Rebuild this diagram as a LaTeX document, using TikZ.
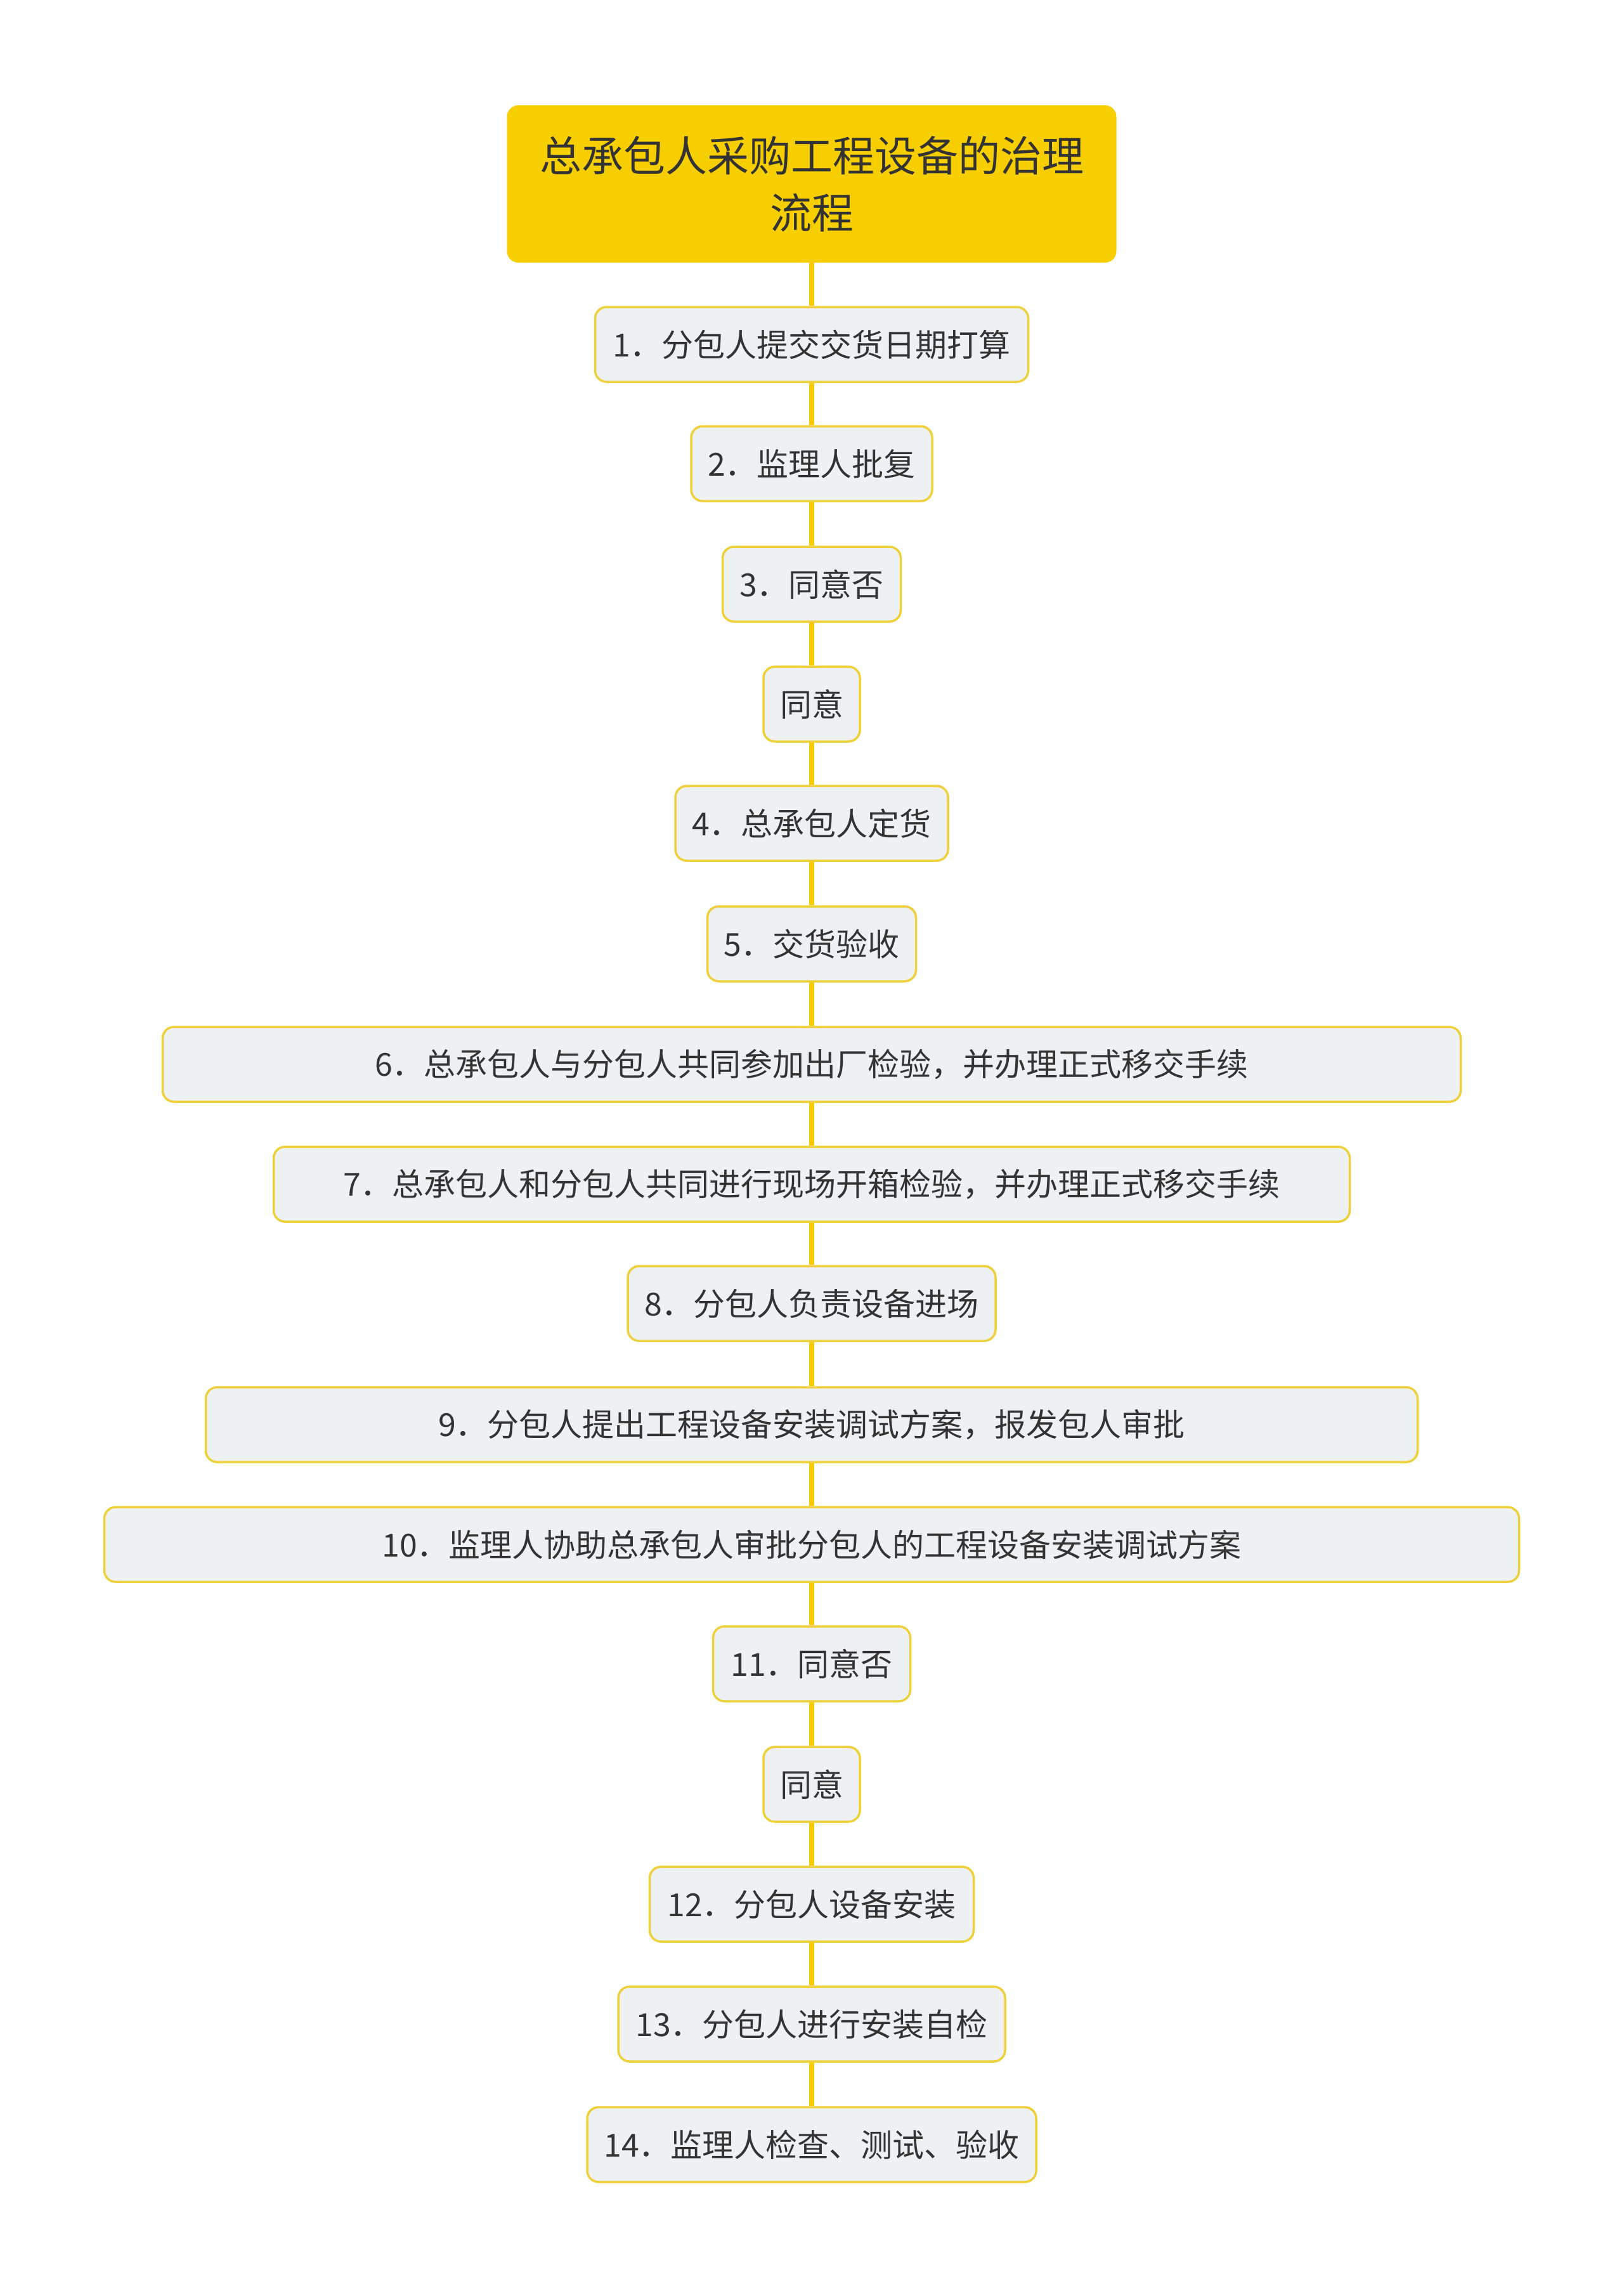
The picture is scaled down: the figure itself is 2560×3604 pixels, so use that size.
\documentclass[tikz,border=0pt]{standalone}
\usepackage{fontspec}
\setmainfont{Noto Sans CJK SC}
\usepackage{xcolor}
\usetikzlibrary{backgrounds}

\definecolor{rootyellow}{HTML}{F7CE00}
\definecolor{lineyellow}{HTML}{F5CB00}
\definecolor{boxborder}{HTML}{EDD03A}
\definecolor{boxfill}{HTML}{EEF1F4}
\definecolor{txtgray}{HTML}{333333}

\begin{document}
\begin{tikzpicture}[x=1pt,y=-1pt,
  rootbox/.style={fill=rootyellow, rounded corners=18pt, minimum width=961pt,
    minimum height=248pt, align=center, text=txtgray, inner sep=0pt,
    font=\fontsize{66}{90}\selectfont},
  stepbox/.style={draw=boxborder, fill=boxfill, line width=3.5pt,
    rounded corners=18pt, minimum height=118pt, text=txtgray, inner sep=0pt,
    font=\fontsize{50}{60}\selectfont},
  link/.style={draw=lineyellow, line width=8pt}]

\useasboundingbox (0,0) rectangle (2560,3604);

% title
\node[rootbox] (n0) at (1280,290) {总承包人采购工程设备的治理\\流程};

% steps, top to bottom
\foreach \w/\y/\t [count=\i] in {
  683/543/{1．分包人提交交货日期打算},
  380/731/{2．监理人批复},
  281/921/{3．同意否},
  152/1110/{同意},
  430/1298/{4．总承包人定货},
  329/1488/{5．交货验收},
  2047/1678/{6．总承包人与分包人共同参加出厂检验，并办理正式移交手续},
  1697/1867/{7．总承包人和分包人共同进行现场开箱检验，并办理正式移交手续},
  580/2055/{8．分包人负责设备进场},
  1911/2246/{9．分包人提出工程设备安装调试方案，报发包人审批},
  2231/2435/{10．监理人协助总承包人审批分包人的工程设备安装调试方案},
  311/2623/{11．同意否},
  152/2813/{同意},
  511/3002/{12．分包人设备安装},
  610/3191/{13．分包人进行安装自检},
  708/3381/{14．监理人检查、测试、验收}}
  \node[stepbox, minimum width=\w pt] (n\i) at (1280,\y) {\t};

% spine
\begin{scope}[on background layer]
\fill[white] (0,0) rectangle (2560,3604);
\foreach \i [evaluate=\i as \j using int(\i+1)] in {0,...,15}
  \draw[link] (n\i) -- (n\j);
\end{scope}

\end{tikzpicture}
\end{document}
